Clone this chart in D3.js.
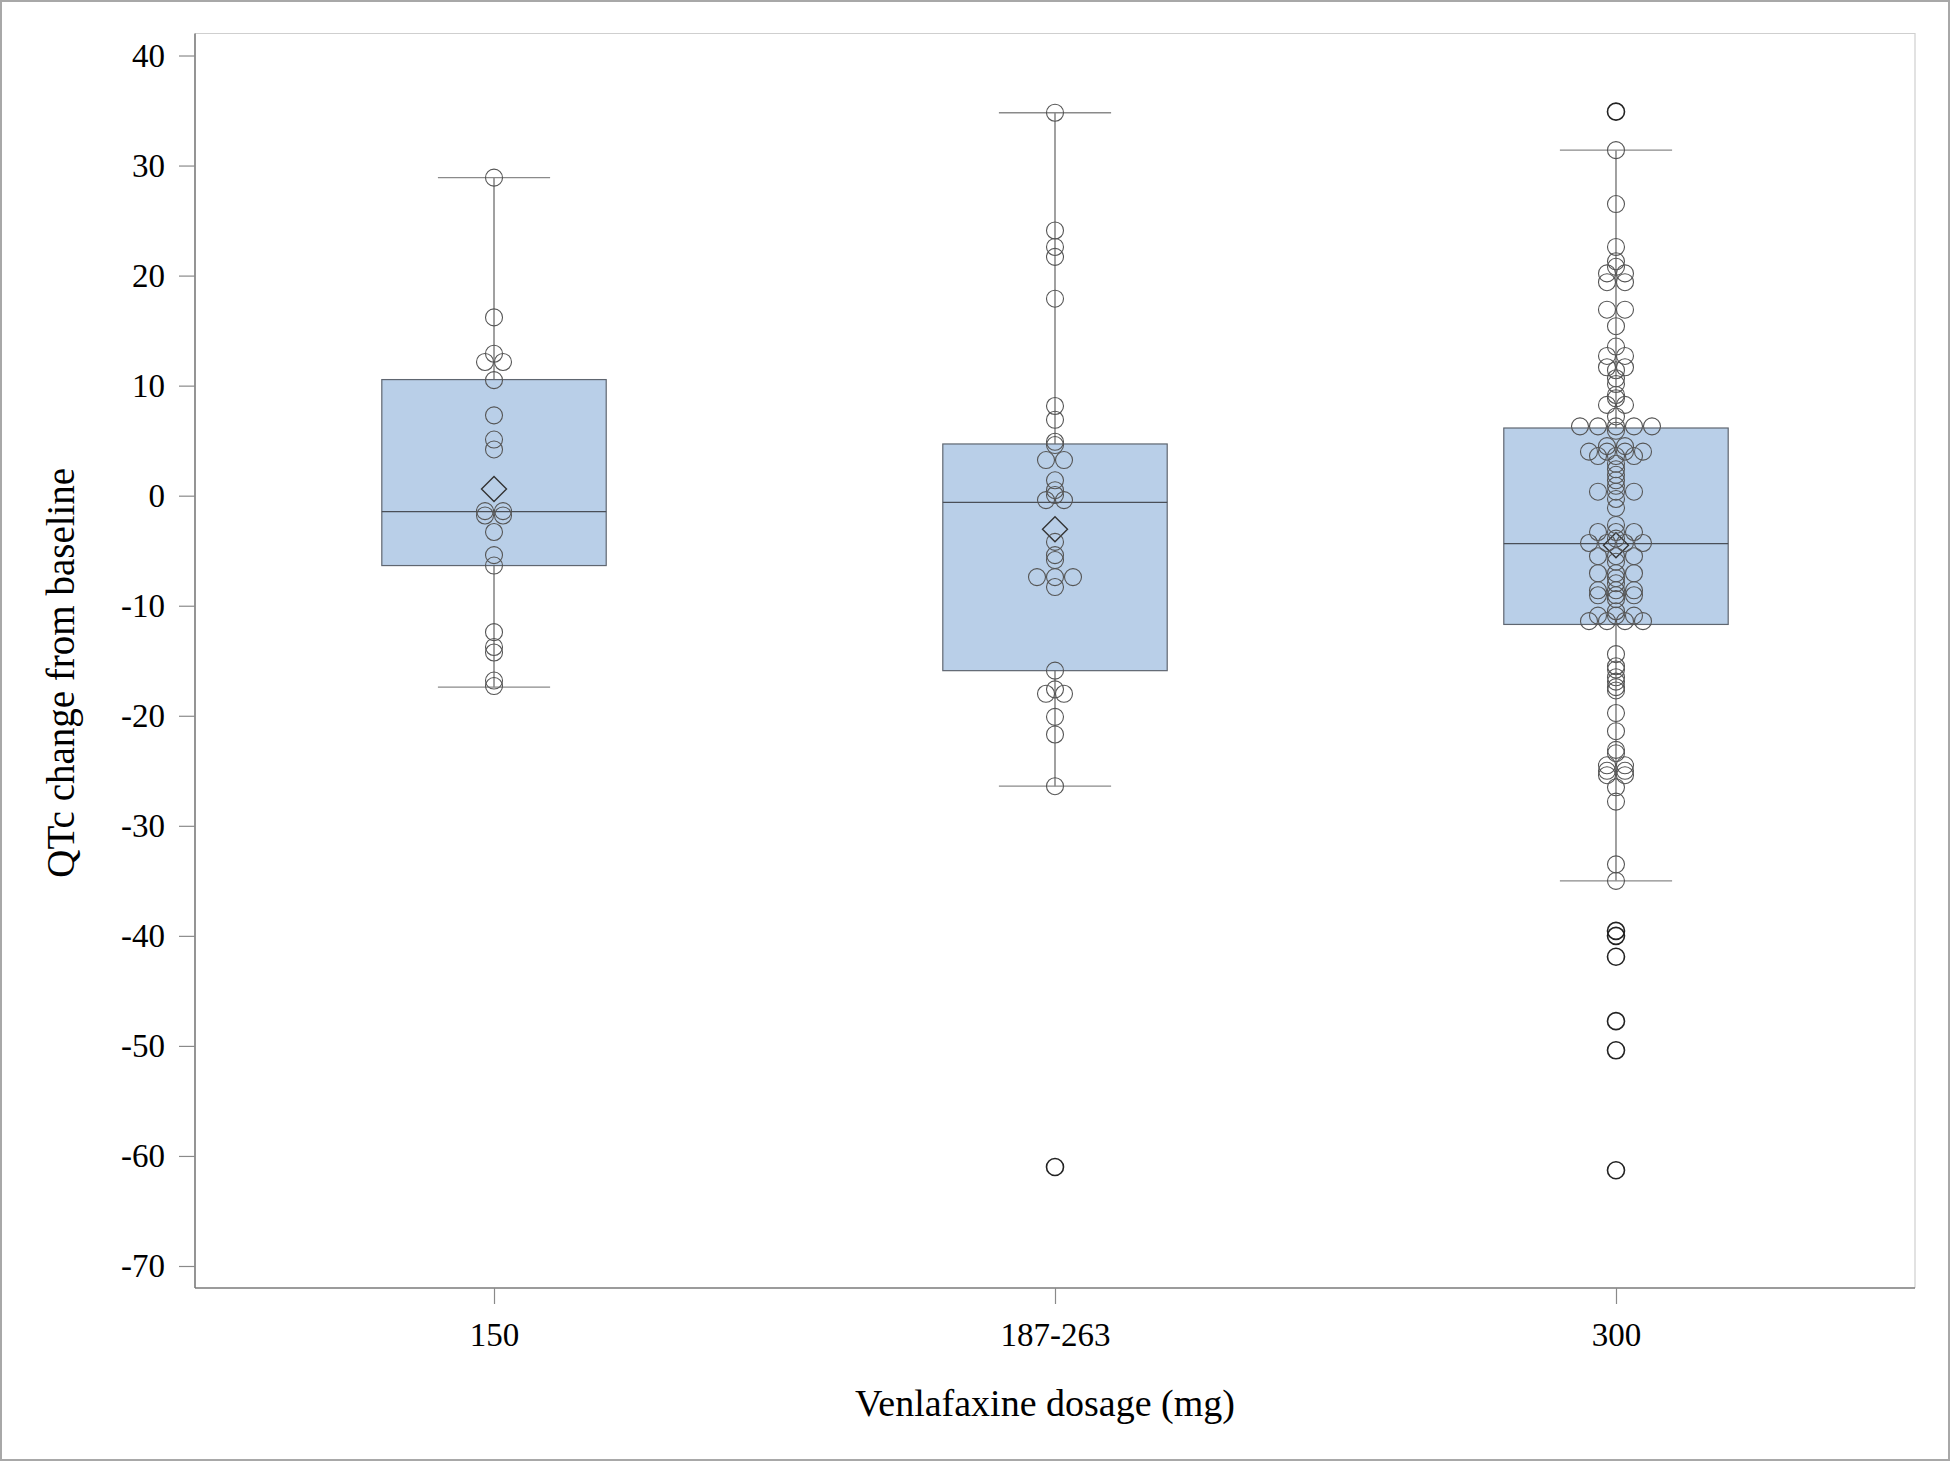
<!DOCTYPE html>
<html><head><meta charset="utf-8">
<script src="https://cdn.jsdelivr.net/npm/d3@7"></script>
<style>body{margin:0;background:#fff} svg{display:block}</style>
</head><body>
<script>
// ---- data ----
const categories = ["150", "187-263", "300"];
const yTickValues = [40, 30, 20, 10, 0, -10, -20, -30, -40, -50, -60, -70];
const whiskerHigh = [28.9, 34.8, 31.4];
const q3Values    = [10.55, 4.7, 6.15];
const medianValues = [-1.45, -0.6, -4.35];
const q1Values    = [-6.35, -15.9, -11.7];
const whiskerLow  = [-17.4, -26.4, -35.0];
const meanValues  = [0.6, -3.05, -4.5];

const values150 = [28.9, 16.2, 12.9, 12.15, 12.15, 10.5, 7.3, 5.1, 4.2,
  -1.4, -1.4, -1.8, -1.8, -3.3, -5.4, -6.35, -12.4, -13.75, -14.25, -16.8, -17.3];
const values187 = [34.8, 24.1, 22.6, 21.7, 17.9, 8.15, 6.9, 4.9, 4.6, 3.24, 3.24,
  1.4, 0.5, 0.06, -0.4, -0.4, -4.2, -5.4, -5.85, -7.4, -7.4, -7.4, -8.3,
  -15.9, -17.6, -18.0, -18.0, -20.1, -21.7, -26.4, -61.0];
const values300 = [34.9, 31.4, 26.5, 22.6, 21.3, 20.8, 20.2, 20.2, 19.4, 19.4,
  16.9, 16.9, 15.4, 13.55, 12.7, 12.7, 11.67, 11.67, 11.4, 10.67, 10.15, 9.15, 8.85,
  8.25, 8.25, 7.2, 6.3, 6.3, 6.3, 6.3, 6.3, 5.9, 4.5, 4.5, 4.0, 4.0, 4.0, 4.0,
  3.6, 3.6, 3.6, 2.9, 2.4, 1.9, 1.4, 0.9, 0.36, 0.36, 0.36, -0.3, -1.1, -2.66,
  -3.3, -3.3, -3.3, -3.9, -4.3, -4.3, -4.3, -4.3, -5.5, -5.5, -5.5, -6.0,
  -7.05, -7.05, -7.05, -7.5, -7.96, -8.6, -8.6, -8.6, -9.05, -9.05, -9.05, -9.4,
  -10.5, -10.9, -10.9, -10.9, -11.4, -11.4, -11.4, -11.4,
  -14.4, -15.5, -15.8, -16.5, -16.9, -17.4, -17.7, -19.75, -21.4, -23.1, -23.4,
  -24.5, -24.5, -25.0, -25.0, -25.4, -25.4, -26.5, -27.8, -33.5, -35.0,
  -39.55, -40.0, -41.9, -47.75, -50.4, -61.3];
const groupValues = [values150, values187, values300];

const xTitle = "Venlafaxine dosage (mg)";
const yTitle = "QTc change from baseline";

// ---- layout ----
const W = 1950, H = 1461;
const m = {left: 195, right: 35, top: 33.5, bottom: 173};
const plotR = W - m.right, plotB = H - m.bottom;
const font = "'Liberation Serif','Times New Roman',serif";

const svg = d3.select("body").append("svg").attr("width", W).attr("height", H);
svg.append("rect").attr("x", 1).attr("y", 1).attr("width", W - 2).attr("height", H - 2)
  .attr("fill", "#fff").attr("stroke", "#a8a8a8").attr("stroke-width", 2);

const x = d3.scalePoint().domain(categories).range([m.left, plotR]).padding(0.533);
const y = d3.scaleLinear().domain([-72, 42]).range([plotB, m.top]);
const step = x.step();
const boxW = step * 0.4;

// frame top/right
svg.append("path").attr("d", `M${m.left},${m.top}H${plotR}V${plotB}`)
  .attr("fill", "none").attr("stroke", "#cfcfcf").attr("stroke-width", 1.2);

// axes
const yAxis = svg.append("g").attr("transform", `translate(${m.left},0)`)
  .call(d3.axisLeft(y).tickValues(yTickValues).tickFormat(d => String(d))
    .tickSize(16).tickSizeOuter(0).tickPadding(14));
const xAxis = svg.append("g").attr("transform", `translate(0,${plotB})`)
  .call(d3.axisBottom(x).tickSize(16).tickSizeOuter(0).tickPadding(19));
[yAxis, xAxis].forEach(g => {
  g.select(".domain").attr("stroke", "#7a7a7a").attr("stroke-width", 1.6);
  g.selectAll(".tick line").attr("stroke", "#8a8a8a").attr("stroke-width", 1.2);
  g.selectAll(".tick text").attr("font-family", font).attr("font-size", 33).attr("fill", "#000");
});
yAxis.select(".domain").attr("d", `M0,${m.top}V${plotB}`);
xAxis.select(".domain").attr("d", `M${m.left},0H${plotR}`);

// titles
svg.append("text").attr("x", (m.left + plotR) / 2 - 10).attr("y", 1416)
  .attr("text-anchor", "middle").attr("font-family", font).attr("font-size", 38).text(xTitle);
svg.append("text").attr("transform", `translate(74,${(m.top + plotB) / 2 + 12}) rotate(-90)`)
  .attr("text-anchor", "middle").attr("font-family", font).attr("font-size", 39).text(yTitle);

// boxes
const g = svg.append("g");
categories.forEach((c, i) => {
  const cx = x(c);
  g.append("line").attr("x1", cx).attr("x2", cx).attr("y1", y(q3Values[i])).attr("y2", y(whiskerHigh[i]))
    .attr("stroke", "#6e6e6e").attr("stroke-width", 1.3);
  g.append("line").attr("x1", cx).attr("x2", cx).attr("y1", y(q1Values[i])).attr("y2", y(whiskerLow[i]))
    .attr("stroke", "#6e6e6e").attr("stroke-width", 1.3);
  [whiskerHigh[i], whiskerLow[i]].forEach(v => {
    g.append("line").attr("x1", cx - boxW / 4).attr("x2", cx + boxW / 4).attr("y1", y(v)).attr("y2", y(v))
      .attr("stroke", "#8a8a8a").attr("stroke-width", 1.3);
  });
  g.append("rect").attr("x", cx - boxW / 2).attr("width", boxW)
    .attr("y", y(q3Values[i])).attr("height", y(q1Values[i]) - y(q3Values[i]))
    .attr("fill", "#b9cfe8").attr("stroke", "#5f6670").attr("stroke-width", 1.2);
  g.append("line").attr("x1", cx - boxW / 2).attr("x2", cx + boxW / 2)
    .attr("y1", y(medianValues[i])).attr("y2", y(medianValues[i]))
    .attr("stroke", "#4a4f57").attr("stroke-width", 1.2);
  const my = y(meanValues[i]), d = 12.5;
  g.append("path").attr("d", `M${cx},${my - d}L${cx + d},${my}L${cx},${my + d}L${cx - d},${my}Z`)
    .attr("fill", "none").attr("stroke", "#333").attr("stroke-width", 1.4);
});

// points with jitter for identical values
categories.forEach((c, i) => {
  const vals = groupValues[i];
  const counts = d3.rollup(vals, v => v.length, v => v);
  const seen = new Map();
  const pts = vals.map(v => {
    const k = counts.get(v);
    const j = seen.get(v) || 0;
    seen.set(v, j + 1);
    return {v, off: (j - (k - 1) / 2) * 18};
  });
  const isOut = v => v > whiskerHigh[i] + 0.01 || v < whiskerLow[i] - 0.01;
  g.selectAll(null).data(pts).join("circle")
    .attr("cx", d => x(c) + d.off).attr("cy", d => y(d.v)).attr("r", 8.5)
    .attr("fill", "none")
    .attr("stroke", d => isOut(d.v) ? "#222" : "#555")
    .attr("stroke-width", d => isOut(d.v) ? 1.6 : 1.1);
});
</script>
</body></html>
